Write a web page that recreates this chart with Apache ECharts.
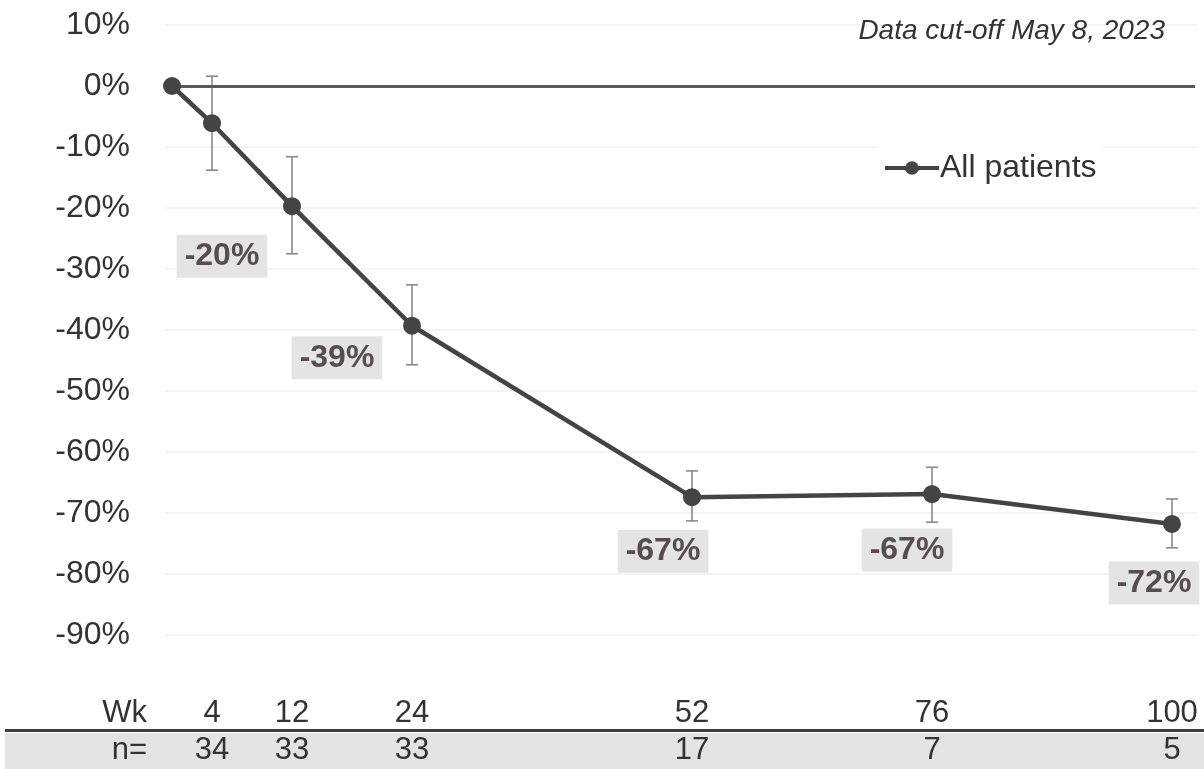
<!DOCTYPE html>
<html>
<head>
<meta charset="utf-8">
<script src="https://cdn.jsdelivr.net/npm/echarts@6/dist/echarts.min.js"></script>
<style>
html,body{margin:0;padding:0;background:#fff;}
#chart{width:1204px;height:769px;}
</style>
</head>
<body>
<div id="chart"></div>
<script>
// ---- data ----
const weeks = [0, 4, 12, 24, 52, 76, 100];
const meanChange = [0, -6.1, -19.7, -39.3, -67.4, -66.9, -71.8];
const errUpper = [null, 1.6, -11.6, -32.6, -63.1, -62.5, -67.7];
const errLower = [null, -13.8, -27.5, -45.7, -71.3, -71.5, -75.7];
const tickWeeks = [4, 12, 24, 52, 76, 100];
const nPatients = [34, 33, 33, 17, 7, 5];
const seriesName = 'All patients';
const cutoffText = 'Data cut-off May 8, 2023';

// ---- build ----
const FONT = '"Liberation Sans", Arial, sans-serif';
const labelOffsets = {2: [-70, 50], 3: [-75, 32], 4: [-29, 54], 5: [-25, 56], 6: [-18, 59]};

const lineData = weeks.map((w, i) => {
  const item = {value: [w, meanChange[i]]};
  if (labelOffsets[i]) {
    item.label = {show: true, offset: labelOffsets[i]};
  }
  return item;
});
const errData = weeks.map((w, i) => [w, errUpper[i], errLower[i]]).filter(d => d[1] !== null);

const X_MIN = -0.7, X_MAX = 102.5;

const chart = echarts.init(document.getElementById('chart'), null, {renderer: 'canvas'});
const option = {
  backgroundColor: '#fff',
  animation: false,
  title: {
    text: cutoffText,
    right: 34, top: 12,
    textStyle: {fontFamily: FONT, fontStyle: 'italic', fontWeight: 'normal', fontSize: 28, color: '#333'}
  },
  legend: {
    data: [seriesName],
    left: 877, top: 146,
    itemWidth: 54, itemHeight: 17, itemGap: 4,
    backgroundColor: '#fff',
    padding: [6, 6],
    lineStyle: {width: 4},
    textStyle: {fontFamily: FONT, fontSize: 32, color: '#333', padding: [0, 0, 0, -4]}
  },
  grid: {left: 165, right: 7, top: 25, bottom: 73, containLabel: false},
  xAxis: [
    {
      type: 'value', min: X_MIN, max: X_MAX, gridIndex: 0,
      axisLine: {show: false}, axisTick: {show: false}, axisLabel: {show: false}, splitLine: {show: false}
    },
    {
      type: 'value', min: X_MIN, max: X_MAX, gridIndex: 0, position: 'bottom',
      name: 'Wk', nameLocation: 'start', nameGap: 18,
      nameTextStyle: {fontFamily: FONT, fontSize: 31, color: '#333', verticalAlign: 'top', padding: [2, 0, 0, 0]},
      axisLine: {show: false}, axisTick: {show: false}, splitLine: {show: false},
      axisLabel: {
        customValues: tickWeeks, margin: 2, fontFamily: FONT, fontSize: 31, color: '#333',
        verticalAlign: 'top'
      }
    },
    {
      type: 'value', min: X_MIN, max: X_MAX, gridIndex: 0, position: 'bottom', offset: 39,
      name: 'n=', nameLocation: 'start', nameGap: 18,
      nameTextStyle: {fontFamily: FONT, fontSize: 31, color: '#333', verticalAlign: 'top', padding: [0, 0, 0, 0]},
      axisLine: {show: false}, axisTick: {show: false}, splitLine: {show: false},
      axisLabel: {
        customValues: tickWeeks, margin: 0, fontFamily: FONT, fontSize: 31, color: '#333',
        verticalAlign: 'top',
        formatter: v => String(nPatients[tickWeeks.indexOf(v)])
      }
    }
  ],
  yAxis: {
    type: 'value', min: -100, max: 10, interval: 10,
    axisLine: {show: false}, axisTick: {show: false},
    splitLine: {show: true, showMinLine: false, lineStyle: {color: '#f1f1f1', width: 1.5}},
    axisLabel: {
      margin: 35, fontFamily: FONT, fontSize: 32, color: '#333',
      formatter: v => (v === -100 ? '' : v + '%')
    }
  },
  graphic: [
    {type: 'rect', left: 5, top: 733, shape: {width: 1199, height: 36}, style: {fill: '#e3e3e3'}, z: -10},
    {type: 'rect', left: 5, top: 729, shape: {width: 1199, height: 3}, style: {fill: '#3e3e3e'}, z: -9}
  ],
  series: [
    {
      type: 'custom', name: 'err', xAxisIndex: 0, z: 1,
      renderItem: function (params, api) {
        const x = api.value(0);
        const top = api.coord([x, api.value(1)]);
        const bot = api.coord([x, api.value(2)]);
        const cap = 6;
        const style = {stroke: '#8a8a8a', lineWidth: 1.6};
        return {
          type: 'group',
          children: [
            {type: 'line', shape: {x1: top[0], y1: top[1], x2: bot[0], y2: bot[1]}, style},
            {type: 'line', shape: {x1: top[0] - cap, y1: top[1], x2: top[0] + cap, y2: top[1]}, style},
            {type: 'line', shape: {x1: bot[0] - cap, y1: bot[1], x2: bot[0] + cap, y2: bot[1]}, style}
          ]
        };
      },
      encode: {x: 0, y: [1, 2]},
      data: errData
    },
    {
      type: 'line', name: seriesName, xAxisIndex: 0, z: 3,
      data: lineData,
      symbol: 'circle', symbolSize: 18,
      itemStyle: {color: '#444'},
      lineStyle: {color: '#444', width: 4.5},
      label: {
        show: false, position: 'inside',
        formatter: p => Math.round(p.value[1]) + '%',
        fontFamily: FONT, fontWeight: 'bold', fontSize: 32, color: '#574d4f',
        backgroundColor: '#e4e4e4', padding: [6, 8, 5, 8]
      },
      markLine: {
        silent: true, symbol: 'none', z: 2,
        lineStyle: {color: '#5a5a5a', width: 3, type: 'solid'},
        label: {show: false},
        data: [[{coord: [0, 0]}, {coord: [X_MAX - 0.2, 0]}]]
      }
    }
  ]
};
chart.setOption(option);
</script>
</body>
</html>
